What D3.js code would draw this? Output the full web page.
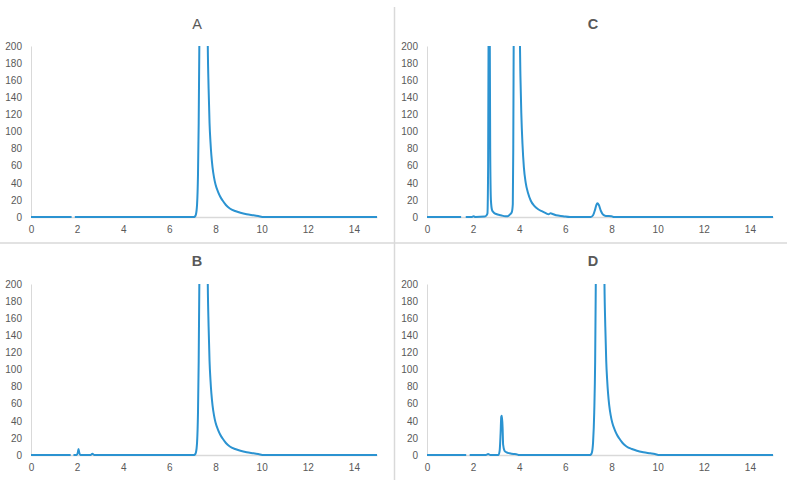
<!DOCTYPE html>
<html>
<head>
<meta charset="utf-8">
<script src="https://cdn.jsdelivr.net/npm/d3@7"></script>
<style>
  body { margin: 0; background: #fff; }
  text { font-family: "Liberation Sans", Arial, sans-serif; }
</style>
</head>
<body>
<div id="container"></div>
<script>
// retention time (min) vs detector signal; null = small gap in the trace
var traceA = [
  [0,0],[1.76,0],[1.8,null],[1.9,0],[7.05,0],[7.1,0.5],[7.15,3],[7.2,15],[7.24,50],[7.27,110],[7.3,210],
  [7.4,600],[7.5,900],[7.6,500],[7.66,210],[7.7,150],[7.74,110],[7.78,88],[7.82,72],[7.87,58],[7.93,47],
  [8.0,38],[8.1,30],[8.2,24],[8.3,19.5],[8.45,14],[8.62,10],[8.85,7],[9.08,5],[9.35,3.3],[9.65,2],
  [9.85,1.1],[10.1,0],[15,0]
];
var traceB = [
  [0,0],[1.72,0],[1.77,null],[1.84,0],[1.98,0],[2.03,3],[2.06,7],[2.09,3],[2.14,0],[2.58,0],[2.66,1.5],[2.75,0],
  [7.05,0],[7.1,0.5],[7.15,3],[7.2,15],[7.24,50],[7.27,110],[7.3,210],
  [7.4,600],[7.5,900],[7.6,500],[7.66,210],[7.7,150],[7.74,110],[7.78,88],[7.82,72],[7.87,58],[7.93,47],
  [8.0,38],[8.1,30],[8.2,24],[8.3,19.5],[8.45,14],[8.62,10],[8.85,7],[9.08,5],[9.35,3.3],[9.65,2],
  [9.85,1.1],[10.1,0],[15,0]
];
var traceC = [
  [0,0],[1.48,0],[1.55,null],[1.68,0],[1.95,0],[2.02,1],[2.1,0],[2.5,0.5],[2.58,2],[2.62,4],[2.65,60],
  [2.67,220],[2.69,800],[2.72,220],[2.74,80],[2.77,20],[2.82,8],[2.9,5],[3.0,3.5],[3.2,2],[3.4,0.8],
  [3.5,1],[3.6,3],[3.68,6],[3.72,15],[3.74,80],[3.76,220],[3.9,900],[4.02,220],[4.05,165],[4.09,120],
  [4.14,85],[4.2,58],[4.28,40],[4.38,28],[4.5,19],[4.65,13],[4.82,9],[5.0,6.5],[5.15,4.5],[5.27,3.2],
  [5.36,4.3],[5.45,3.5],[5.6,2],[5.9,1],[6.2,0],[7.1,0],[7.2,2],[7.28,8],[7.34,14],[7.39,16],[7.45,14],
  [7.54,7],[7.64,2.5],[7.75,1.2],[8.0,1],[8.1,0],[15,0]
];
var traceD = [
  [0,0],[1.7,0],[1.75,null],[1.85,0],[2.55,0],[2.65,1.2],[2.75,0],[3.1,0],[3.15,5],[3.19,25],[3.22,45],
  [3.25,46],[3.28,30],[3.3,12],[3.36,5],[3.45,3],[3.58,2],[3.75,1.2],[3.87,1],[4.0,0],
  [7.05,0],[7.1,0.5],[7.15,3],[7.2,15],[7.25,50],[7.29,110],[7.32,210],
  [7.42,600],[7.52,900],[7.63,500],[7.69,210],[7.73,150],[7.77,110],[7.81,88],[7.85,72],[7.9,58],[7.96,47],
  [8.03,38],[8.13,30],[8.23,24],[8.33,19.5],[8.48,14],[8.65,10],[8.88,7],[9.1,5],[9.38,3.3],[9.68,2],
  [9.88,1.1],[10.08,0],[15,0]
];

var panelTitles = ["A", "C", "B", "D"];
var panelTraces = [traceA, traceC, traceB, traceD];
var xTicks = [0, 2, 4, 6, 8, 10, 12, 14];
var yTicks = [0, 20, 40, 60, 80, 100, 120, 140, 160, 180, 200];
var xDomain = [0, 15];
var yDomain = [0, 200];

var width = 796, height = 487;
var blue = "#2b93d1", grid = "#d9d9d9", textColor = "#595959";

var svg = d3.select("#container").append("svg")
    .attr("width", width)
    .attr("height", height);

svg.append("rect").attr("width", width).attr("height", height).attr("fill", "#fff");

// panel frames (positions of each little Excel chart)
var frames = [
  { left: 31,  top: 46,  w: 346, h: 171, titleY: 25 },
  { left: 427, top: 46,  w: 346, h: 171, titleY: 25 },
  { left: 31,  top: 284, w: 346, h: 171, titleY: 262 },
  { left: 427, top: 284, w: 346, h: 171, titleY: 262 }
];

// separators between the screenshots
svg.append("line")
    .attr("x1", 394.5).attr("x2", 394.5).attr("y1", 7).attr("y2", 480)
    .attr("stroke", grid).attr("stroke-width", 1.5);
svg.append("line")
    .attr("x1", 0).attr("x2", 787).attr("y1", 243).attr("y2", 243)
    .attr("stroke", grid).attr("stroke-width", 1.5);

frames.forEach(function(f, i){

  var x = d3.scaleLinear().domain(xDomain).range([f.left, f.left + f.w]);
  var y = d3.scaleLinear().domain(yDomain).range([f.top + f.h, f.top]);

  var g = svg.append("g");

  // y axis
  var yAxis = g.append("g")
      .attr("transform", "translate(" + f.left + ",0)")
      .call(d3.axisLeft(y).tickValues(yTicks).tickSize(0).tickPadding(9).tickFormat(d3.format("d")));
  yAxis.select(".domain").attr("stroke", grid).attr("stroke-width", 1);
  yAxis.selectAll("text").attr("fill", textColor).attr("font-size", 10);

  // x axis
  var xAxis = g.append("g")
      .attr("transform", "translate(0," + (f.top + f.h) + ")")
      .call(d3.axisBottom(x).tickValues(xTicks).tickSize(0).tickPadding(9).tickFormat(d3.format("d")));
  xAxis.select(".domain").attr("stroke", grid).attr("stroke-width", 1.5);
  xAxis.selectAll("text").attr("fill", textColor).attr("font-size", 10);

  // title
  g.append("text")
      .attr("x", f.left + 166)
      .attr("y", f.titleY)
      .attr("text-anchor", "middle")
      .attr("dominant-baseline", "middle")
      .attr("fill", textColor)
      .attr("font-size", 14.5)
      .attr("font-weight", i === 0 ? "normal" : "bold")
      .text(panelTitles[i]);

  // clip the trace at the top of the plot area
  var clipId = "clip" + i;
  svg.append("clipPath").attr("id", clipId)
    .append("rect")
      .attr("x", f.left - 2).attr("y", f.top)
      .attr("width", f.w + 4).attr("height", f.h + 4);

  var line = d3.line()
      .defined(function(d){ return d[1] !== null; })
      .x(function(d){ return x(d[0]); })
      .y(function(d){ return y(d[1]); })
      .curve(d3.curveMonotoneX);

  g.append("path")
      .datum(panelTraces[i])
      .attr("clip-path", "url(#" + clipId + ")")
      .attr("fill", "none")
      .attr("stroke", blue)
      .attr("stroke-width", 2)
      .attr("stroke-linejoin", "round")
      .attr("d", line);
});
</script>
</body>
</html>
